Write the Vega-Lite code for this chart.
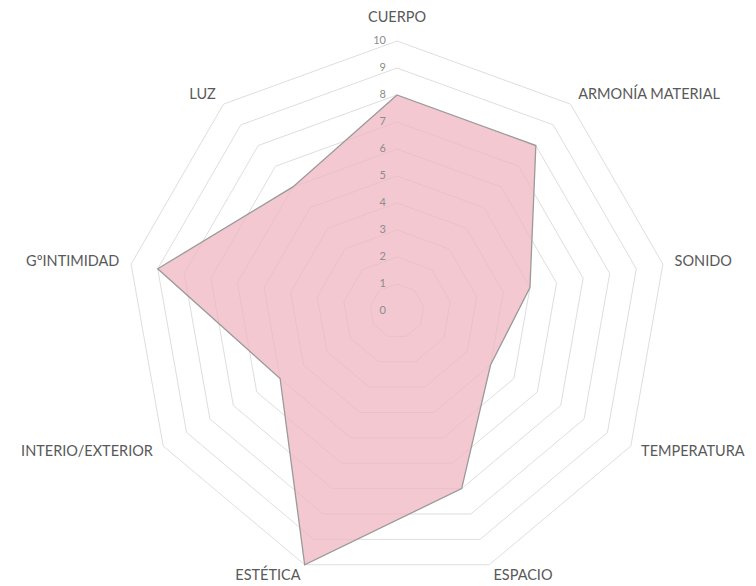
{
  "$schema": "https://vega.github.io/schema/vega-lite/v6.json",
  "width": 756,
  "height": 586,
  "padding": 0,
  "autosize": {"type": "fit", "contains": "padding"},
  "background": "white",
  "config": {"view": {"stroke": null}},
  "datasets": {
    "scores": [
      {"axis": "CUERPO", "idx": 0, "value": 8},
      {"axis": "ARMONÍA MATERIAL", "idx": 1, "value": 8},
      {"axis": "SONIDO", "idx": 2, "value": 5},
      {"axis": "TEMPERATURA", "idx": 3, "value": 4},
      {"axis": "ESPACIO", "idx": 4, "value": 7},
      {"axis": "ESTÉTICA", "idx": 5, "value": 10},
      {"axis": "INTERIO/EXTERIOR", "idx": 6, "value": 5},
      {"axis": "GºINTIMIDAD", "idx": 7, "value": 9},
      {"axis": "LUZ", "idx": 8, "value": 6}
    ],
    "levels": [
      {"level": 0, "k": [0, 1, 2, 3, 4, 5, 6, 7, 8]},
      {"level": 1, "k": [0, 1, 2, 3, 4, 5, 6, 7, 8]},
      {"level": 2, "k": [0, 1, 2, 3, 4, 5, 6, 7, 8]},
      {"level": 3, "k": [0, 1, 2, 3, 4, 5, 6, 7, 8]},
      {"level": 4, "k": [0, 1, 2, 3, 4, 5, 6, 7, 8]},
      {"level": 5, "k": [0, 1, 2, 3, 4, 5, 6, 7, 8]},
      {"level": 6, "k": [0, 1, 2, 3, 4, 5, 6, 7, 8]},
      {"level": 7, "k": [0, 1, 2, 3, 4, 5, 6, 7, 8]},
      {"level": 8, "k": [0, 1, 2, 3, 4, 5, 6, 7, 8]},
      {"level": 9, "k": [0, 1, 2, 3, 4, 5, 6, 7, 8]},
      {"level": 10, "k": [0, 1, 2, 3, 4, 5, 6, 7, 8]}
    ]
  },
  "layer": [
    {
      "data": {"name": "levels"},
      "transform": [
        {"filter": "datum.level > 0"},
        {"flatten": ["k"]},
        {"calculate": "datum.level * sin(datum.k * 2 * PI / 9)", "as": "px"},
        {"calculate": "datum.level * cos(datum.k * 2 * PI / 9)", "as": "py"}
      ],
      "mark": {"type": "line", "interpolate": "linear-closed", "stroke": "#dedede", "strokeWidth": 1},
      "encoding": {
        "x": {"field": "px", "type": "quantitative", "scale": {"domain": [-14.704, 13.296], "nice": false, "zero": false}, "axis": null},
        "y": {"field": "py", "type": "quantitative", "scale": {"domain": [-10.185, 11.519], "nice": false, "zero": false}, "axis": null},
        "detail": {"field": "level", "type": "nominal"},
        "order": {"field": "k", "type": "quantitative"}
      }
    },
    {
      "data": {"name": "scores"},
      "transform": [
        {"calculate": "datum.value * sin(datum.idx * 2 * PI / 9)", "as": "px"},
        {"calculate": "datum.value * cos(datum.idx * 2 * PI / 9)", "as": "py"}
      ],
      "mark": {"type": "line", "interpolate": "linear-closed", "fill": "#f0b5c2", "fillOpacity": 0.75, "stroke": "#9a9a9a", "strokeWidth": 1.3},
      "encoding": {
        "x": {"field": "px", "type": "quantitative"},
        "y": {"field": "py", "type": "quantitative"},
        "order": {"field": "idx", "type": "quantitative"}
      }
    },
    {
      "data": {"name": "levels"},
      "transform": [
        {"calculate": "0", "as": "px"}
      ],
      "mark": {"type": "text", "align": "right", "baseline": "middle", "dx": -11, "fontSize": 11, "font": "Lato", "fill": "#8c8c8c"},
      "encoding": {
        "x": {"field": "px", "type": "quantitative"},
        "y": {"field": "level", "type": "quantitative"},
        "text": {"field": "level", "type": "quantitative"}
      }
    },
    {
      "data": {"name": "scores"},
      "transform": [
        {"filter": "datum.idx == 0"},
        {"calculate": "10.85 * sin(datum.idx * 2 * PI / 9)", "as": "px"},
        {"calculate": "10.85 * cos(datum.idx * 2 * PI / 9)", "as": "py"}
      ],
      "mark": {"type": "text", "align": "center", "baseline": "middle", "fontSize": 14.5, "font": "Lato", "fill": "#595959"},
      "encoding": {
        "x": {"field": "px", "type": "quantitative"},
        "y": {"field": "py", "type": "quantitative"},
        "text": {"field": "axis", "type": "nominal"}
      }
    },
    {
      "data": {"name": "scores"},
      "transform": [
        {"filter": "datum.idx >= 1 && datum.idx <= 4"},
        {"calculate": "10.44 * sin(datum.idx * 2 * PI / 9)", "as": "px"},
        {"calculate": "10.44 * cos(datum.idx * 2 * PI / 9)", "as": "py"}
      ],
      "mark": {"type": "text", "align": "left", "baseline": "middle", "fontSize": 14.5, "font": "Lato", "fill": "#595959"},
      "encoding": {
        "x": {"field": "px", "type": "quantitative"},
        "y": {"field": "py", "type": "quantitative"},
        "text": {"field": "axis", "type": "nominal"}
      }
    },
    {
      "data": {"name": "scores"},
      "transform": [
        {"filter": "datum.idx >= 5"},
        {"calculate": "10.44 * sin(datum.idx * 2 * PI / 9)", "as": "px"},
        {"calculate": "10.44 * cos(datum.idx * 2 * PI / 9)", "as": "py"}
      ],
      "mark": {"type": "text", "align": "right", "baseline": "middle", "fontSize": 14.5, "font": "Lato", "fill": "#595959"},
      "encoding": {
        "x": {"field": "px", "type": "quantitative"},
        "y": {"field": "py", "type": "quantitative"},
        "text": {"field": "axis", "type": "nominal"}
      }
    }
  ]
}
